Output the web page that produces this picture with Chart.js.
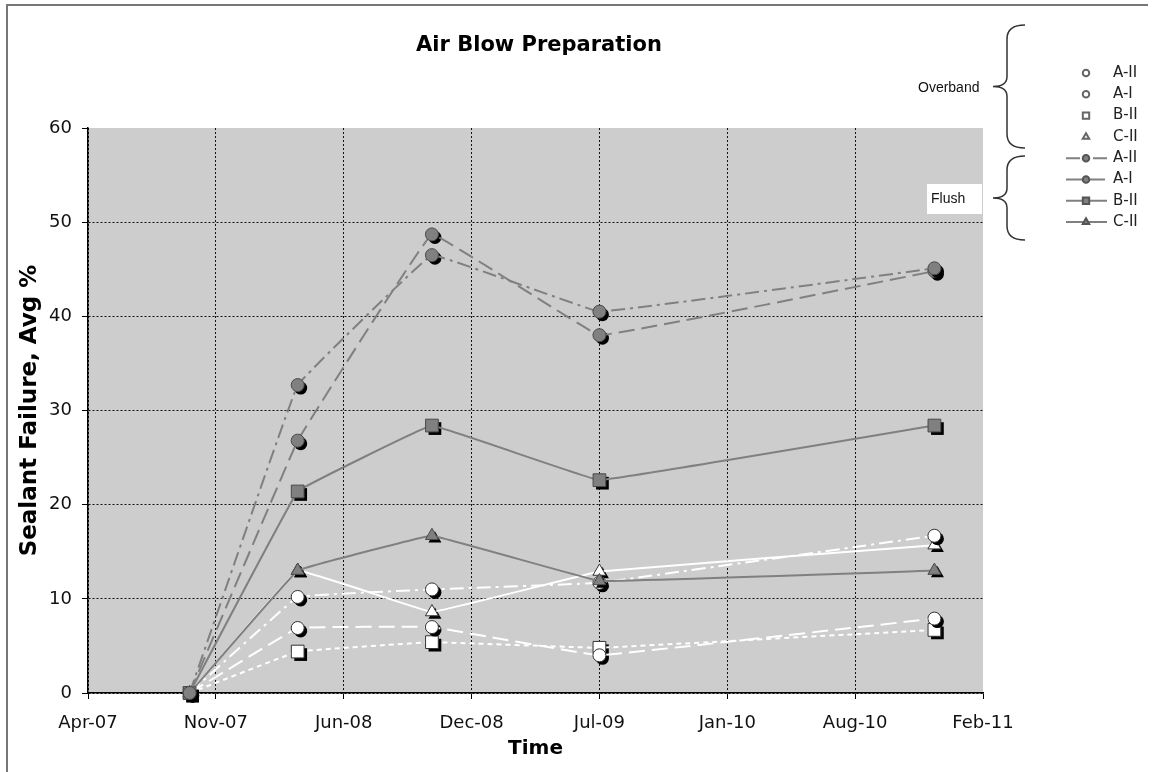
<!DOCTYPE html>
<html>
<head>
<meta charset="utf-8">
<script src="https://cdn.jsdelivr.net/npm/chart.js@4.4.1/dist/chart.umd.min.js"></script>
<style>
    html, body { margin: 0; padding: 0; background: #fff; }
</style>
</head>
<body>
<canvas id="airChart" width="1157" height="772"></canvas>
<script>
// ===============================
// DATA
// ===============================

const sampleDates = ['2007-10-04', '2008-03-21', '2008-10-17', '2009-07-06', '2010-12-12'];

// Overband
const overbandAII = [0, 10.2, 11.0, 11.7, 16.7];
const overbandAI  = [0, 6.9, 7.0, 4.0, 7.9];
const overbandBII = [0, 4.4, 5.4, 4.8, 6.7];
const overbandCII = [0, 13.0, 8.6, 12.9, 15.7];

// Flush
const flushAII = [0, 32.7, 46.5, 40.5, 45.1];
const flushAI  = [0, 26.8, 48.7, 38.0, 44.8];
const flushBII = [0, 21.4, 28.4, 22.6, 28.4];
const flushCII = [0, 13.0, 16.7, 11.9, 13.0];

const timeTickLabels = ['Apr-07', 'Nov-07', 'Jun-08', 'Dec-08', 'Jul-09', 'Jan-10', 'Aug-10', 'Feb-11'];
const axisStart = 39200;   // excel serial of first tick
const axisStep = 200;

const FONT = '"DejaVu Sans", Verdana, sans-serif';

// excel style day number
function excelSerial(iso) {
    return Math.round((Date.parse(iso + 'T00:00:00Z') - Date.UTC(1899, 11, 30)) / 86400000);
}

const xs = sampleDates.map(excelSerial);

const markerSize = { circle: 6.5, rect: 9, triangle: 7.5 };

function series(label, values, pointStyle, dash, flush) {
    return {
        label: label,
        data: values.map((v, i) => ({ x: xs[i], y: v })),
        borderColor: flush ? '#808080' : '#ffffff',
        borderWidth: 2,
        borderDash: dash,
        pointStyle: pointStyle,
        pointRadius: markerSize[pointStyle],
        pointBackgroundColor: flush ? '#808080' : '#ffffff',
        pointBorderColor: flush ? '#4a4a4a' : '#333333',
        pointBorderWidth: 1,
        tension: 0.04,
        clip: false,
        order: flush ? 0 : 1
    };
}

// ===============================
// PLUGINS
// ===============================

const plotBackground = {
    id: 'plotBackground',
    beforeDraw(chart) {
        const { ctx, chartArea: a } = chart;
        ctx.save();
        ctx.fillStyle = '#cdcdcd';
        ctx.fillRect(a.left, a.top, a.right - a.left, a.bottom - a.top);

        // scanned frame edges
        ctx.strokeStyle = '#777';
        ctx.lineWidth = 2;
        ctx.beginPath();
        ctx.moveTo(7, 772);
        ctx.lineTo(7, 5);
        ctx.lineTo(1148, 5);
        ctx.stroke();

        // title
        ctx.fillStyle = '#000';
        ctx.font = 'bold 21px ' + FONT;
        ctx.textAlign = 'center';
        ctx.textBaseline = 'middle';
        ctx.fillText('Air Blow Preparation', 539, 46);
        ctx.restore();
    }
};

const markerShadow = {
    id: 'markerShadow',
    beforeDatasetDraw(chart, args) {
        const ds = chart.data.datasets[args.index];
        const ctx = chart.ctx;
        ctx.save();
        ctx.fillStyle = '#000';
        args.meta.data.forEach(pt => {
            Chart.helpers.drawPoint(ctx, {
                pointStyle: ds.pointStyle,
                radius: ds.pointRadius,
                rotation: 0,
                borderWidth: 0
            }, pt.x + 3, pt.y + 3);
        });
        ctx.restore();
    }
};

function drawBrace(ctx, x, y0, y1) {
    const ym = (y0 + y1) / 2;
    ctx.beginPath();
    ctx.moveTo(x + 18, y0);
    ctx.quadraticCurveTo(x, y0, x, y0 + 14);
    ctx.lineTo(x, ym - 10);
    ctx.quadraticCurveTo(x, ym, x - 14, ym);
    ctx.quadraticCurveTo(x, ym, x, ym + 10);
    ctx.lineTo(x, y1 - 14);
    ctx.quadraticCurveTo(x, y1, x + 18, y1);
    ctx.stroke();
}

const bracedLegend = {
    id: 'bracedLegend',
    afterDraw(chart) {
        const ctx = chart.ctx;
        ctx.save();

        chart.data.datasets.forEach((ds, i) => {
            const y = 73 + i * 21.3;

            ctx.strokeStyle = ds.borderColor;
            ctx.lineWidth = 2;
            ctx.setLineDash(ds.borderDash || []);
            ctx.beginPath();
            ctx.moveTo(1066, y);
            ctx.lineTo(1107, y);
            ctx.stroke();
            ctx.setLineDash([]);

            ctx.fillStyle = ds.pointBackgroundColor;
            ctx.strokeStyle = ds.order === 0 ? '#555' : '#666';
            Chart.helpers.drawPoint(ctx, {
                pointStyle: ds.pointStyle,
                radius: ds.pointRadius * 0.5,
                rotation: 0,
                borderWidth: 1
            }, 1086, y);

            ctx.fillStyle = '#222';
            ctx.font = '15px ' + FONT;
            ctx.textAlign = 'left';
            ctx.textBaseline = 'middle';
            ctx.fillText(ds.label, 1113, y);
        });

        // group braces
        ctx.strokeStyle = '#333';
        ctx.lineWidth = 1.5;
        drawBrace(ctx, 1007, 25, 148);
        drawBrace(ctx, 1007, 156, 240);

        ctx.font = '14px "Liberation Sans", Arial, sans-serif';
        ctx.fillStyle = '#111';
        ctx.textBaseline = 'middle';
        ctx.fillText('Overband', 918, 88);

        ctx.fillStyle = '#fff';
        ctx.fillRect(927, 184, 55, 30);
        ctx.fillStyle = '#111';
        ctx.fillText('Flush', 931, 199);

        ctx.restore();
    }
};

// ===============================
// CHART
// ===============================

const chartCtx = document.getElementById('airChart');

new Chart(chartCtx, {
    type: 'line',
    data: {
        datasets: [
            series('A-II', overbandAII, 'circle', [14, 5, 3, 5], false),
            series('A-I', overbandAI, 'circle', [16, 7], false),
            series('B-II', overbandBII, 'rect', [5, 4], false),
            series('C-II', overbandCII, 'triangle', [], false),
            series('A-II', flushAII, 'circle', [14, 5, 3, 5], true),
            series('A-I', flushAI, 'circle', [16, 7], true),
            series('B-II', flushBII, 'rect', [], true),
            series('C-II', flushCII, 'triangle', [], true)
        ]
    },
    options: {
        responsive: false,
        animation: false,
        layout: {
            padding: { top: 128, right: 174, left: 8, bottom: 0 }
        },
        plugins: {
            legend: { display: false },
            title: { display: false },
            tooltip: { enabled: false }
        },
        scales: {
            x: {
                type: 'linear',
                min: axisStart,
                max: axisStart + axisStep * (timeTickLabels.length - 1),
                ticks: {
                    stepSize: axisStep,
                    autoSkip: false,
                    maxRotation: 0,
                    padding: 14,
                    color: '#111',
                    font: { family: FONT, size: 18 },
                    callback: v => timeTickLabels[Math.round((v - axisStart) / axisStep)]
                },
                grid: {
                    color: c => (c.tick && c.tick.value === axisStart + axisStep * 7) ? 'rgba(0,0,0,0)' : '#111',
                    lineWidth: 1,
                    tickLength: 6,
                    tickColor: '#000',
                    tickBorderDash: []
                },
                border: { color: '#000', width: 1.5, dash: [2, 2] },
                title: {
                    display: true,
                    text: 'Time',
                    color: '#000',
                    font: { family: FONT, size: 20, weight: 'bold' },
                    padding: { top: 0, bottom: 11 }
                },
                afterFit: s => { s.height = 79; }
            },
            y: {
                min: 0,
                max: 60,
                ticks: {
                    stepSize: 10,
                    padding: 10,
                    color: '#111',
                    font: { family: FONT, size: 18 }
                },
                grid: {
                    color: c => (c.tick && c.tick.value === 60) ? 'rgba(0,0,0,0)' : '#111',
                    lineWidth: 1,
                    tickLength: 6,
                    tickColor: '#000',
                    tickBorderDash: []
                },
                border: { color: '#000', width: 1.5, dash: [2, 2] },
                title: {
                    display: true,
                    text: 'Sealant Failure, Avg %',
                    color: '#000',
                    font: { family: FONT, size: 23, weight: 'bold' },
                    padding: { top: 8, bottom: 0 }
                },
                afterFit: s => { s.width = 80; }
            }
        }
    },
    plugins: [plotBackground, markerShadow, bracedLegend]
});
</script>
</body>
</html>
